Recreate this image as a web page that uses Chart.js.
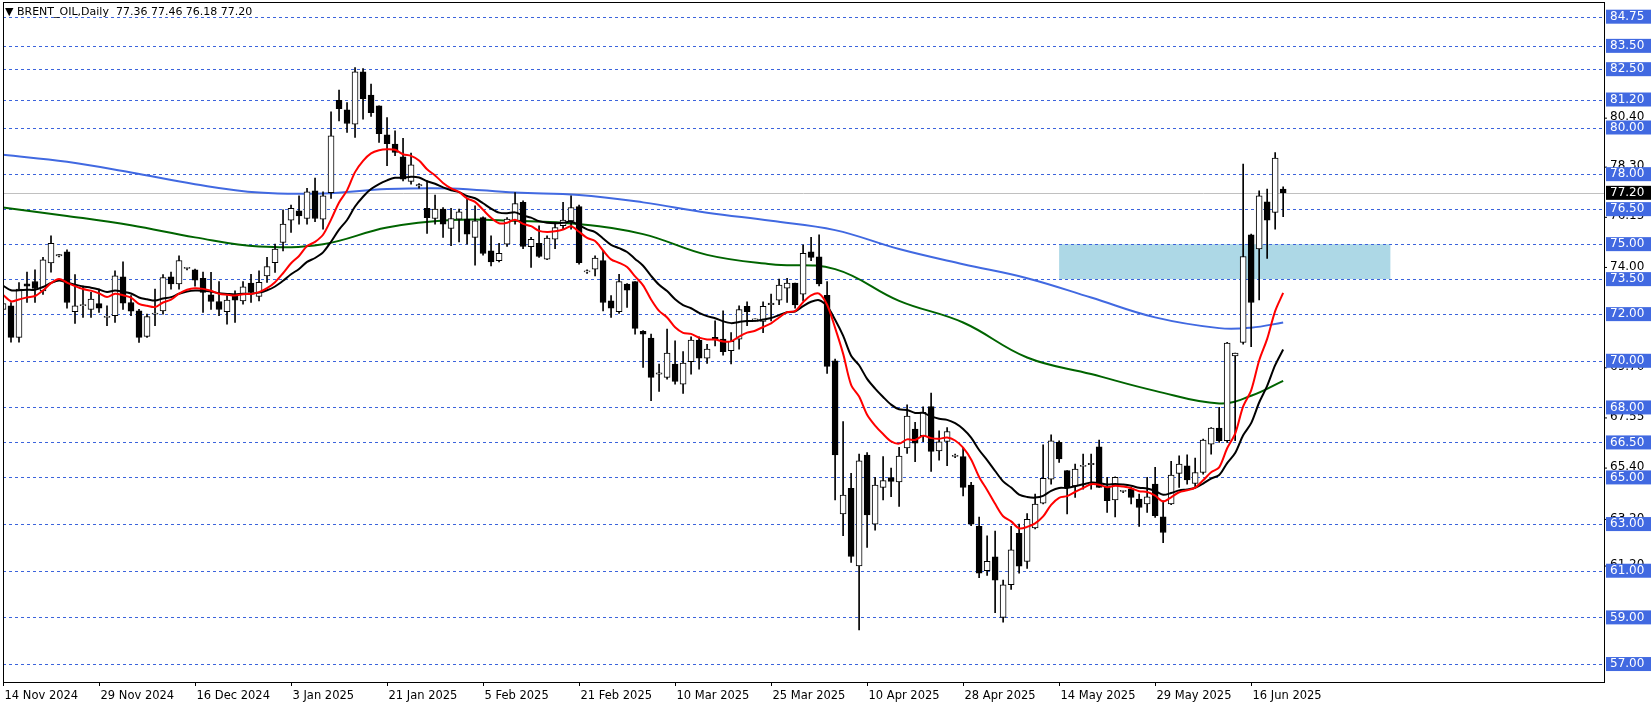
<!DOCTYPE html>
<html><head><meta charset="utf-8">
<script src="https://cdn.jsdelivr.net/npm/chart.js@4.4.0/dist/chart.umd.min.js"></script>
<style>html,body{margin:0;padding:0;background:#fff;overflow:hidden}#w{width:1651px;height:705px}</style>
</head><body><div id="w"><canvas id="c" width="1651" height="705"></canvas></div>
<script>
const opens=[72.2,72.36,71.0,73.3,73.4,73.0,74.2,74.5,74.67,72.1,72.36,72.2,72.45,71.86,71.93,73.6,72.5,72.14,71.04,72.0,72.14,73.6,73.3,73.96,73.9,73.53,72.83,72.54,72.1,72.83,72.57,73.33,72.76,73.64,74.21,75.07,76.03,76.43,76.1,77.29,
76.07,77.21,81.17,80.76,80.14,82.39,81.39,80.93,79.69,79.29,78.74,77.69,77.5,76.54,76.1,76.5,75.67,76.07,76.07,75.29,76.14,74.71,74.29,75.0,76.0,76.79,74.89,75.04,74.36,75.21,75.79,76.0,76.61,73.81,73.93,74.29,72.57,72.1,73.29,73.39,
71.26,70.97,69.43,69.29,69.86,69.0,69.96,70.89,70.11,71.0,70.93,70.43,70.93,72.33,71.75,71.69,72.4,72.6,73.11,73.33,72.86,74.67,74.46,72.81,70.0,63.43,64.53,61.21,65.96,63.0,64.57,64.99,64.81,66.26,67.07,66.79,68.04,66.14,66.54,65.9,
65.89,64.67,62.9,61.0,61.6,59.0,60.4,62.6,61.4,62.83,63.9,64.93,66.5,65.29,64.64,65.47,65.55,66.31,64.57,64.03,64.4,64.5,64.07,63.86,64.71,63.31,63.86,65.17,65.5,64.74,65.21,66.43,67.11,66.57,70.21,70.79,75.4,74.79,76.81,76.36,77.36];
const highs=[72.6,72.5,73.35,73.8,73.9,74.43,75.36,74.55,74.76,73.7,73.2,72.93,73.07,72.36,73.86,74.24,72.79,72.21,72.0,73.07,73.7,73.8,74.5,74.0,73.93,73.8,73.79,73.4,72.79,73.0,73.39,73.71,73.86,74.43,75.0,76.47,76.67,77.07,77.39,77.83,
77.24,80.67,81.6,81.07,82.57,82.53,81.86,80.93,80.43,79.86,79.54,78.9,77.6,77.71,77.1,76.57,76.53,76.5,76.96,76.64,76.17,75.36,75.04,76.14,77.21,76.86,75.29,75.79,75.36,75.93,76.79,77.07,76.67,73.9,74.5,74.74,72.79,73.71,73.31,73.39,
71.29,71.14,69.86,71.36,70.86,70.39,71.03,71.03,70.71,71.71,72.14,71.21,72.36,72.53,71.8,72.53,72.86,73.5,73.53,73.33,74.97,75.29,75.4,73.39,70.07,67.39,65.17,66.0,66.07,65.0,65.89,65.4,66.29,68.11,67.36,68.03,68.61,67.0,67.14,66.0,
66.29,64.79,63.3,62.5,62.7,60.6,62.9,63.0,63.45,64.29,66.4,66.83,66.57,65.29,65.57,66.0,66.0,66.6,65.0,65.03,64.45,64.57,64.29,65.0,65.43,64.0,65.69,65.93,65.97,65.83,66.64,67.14,68.0,70.79,70.33,78.43,75.43,77.29,77.36,78.93,77.46];
const lows=[71.7,70.8,70.8,72.5,72.5,72.85,73.8,74.45,72.26,71.6,71.86,71.86,72.07,71.5,71.64,72.2,71.93,70.79,71.0,71.5,72.0,73.07,73.07,73.9,73.2,72.07,72.2,71.93,71.57,71.64,72.43,72.5,72.57,73.36,73.79,74.71,75.5,75.86,75.86,75.96,
75.64,76.96,80.28,79.79,79.57,80.36,80.47,79.36,78.36,78.79,77.71,77.57,77.4,75.46,75.86,75.29,74.93,75.1,75.0,74.1,74.53,74.07,74.24,74.9,75.86,74.81,74.0,74.43,74.33,74.81,75.64,75.64,74.14,73.75,73.64,72.14,71.86,72.03,72.29,71.14,
69.71,68.29,68.69,69.21,69.0,68.6,69.43,69.64,69.89,70.64,70.24,69.86,70.5,71.5,71.7,71.21,71.71,72.4,72.5,72.26,72.57,74.29,73.21,69.46,64.03,62.5,61.36,58.46,62.0,62.74,64.03,64.17,63.76,66.03,65.67,66.53,65.26,65.74,65.5,65.85,
64.21,62.93,60.7,60.8,59.2,58.8,60.2,60.9,61.1,62.79,63.86,64.71,65.64,63.43,64.14,64.5,64.5,64.57,63.5,63.31,64.35,63.86,62.9,63.5,63.29,62.2,63.83,64.57,64.71,64.57,65.14,66.0,66.5,66.5,66.57,70.71,70.61,72.61,74.39,75.64,76.18];
const closes=[72.45,71.0,73.07,73.2,73.1,74.33,75.04,74.5,72.5,72.36,72.38,72.64,72.26,71.86,73.64,72.47,72.13,71.0,71.89,72.0,73.57,73.3,74.3,73.96,73.46,72.93,72.54,72.2,72.6,72.6,73.17,72.93,73.36,74.04,74.79,75.86,76.53,76.21,77.24,76.1,
77.07,79.64,80.81,80.17,82.39,81.24,80.64,79.74,79.31,78.93,77.79,78.4,77.5,76.14,76.5,75.86,76.1,76.39,75.43,76.0,74.6,74.24,74.61,76.07,76.74,74.9,75.21,74.47,75.26,75.71,76.03,76.57,74.21,73.81,74.4,72.5,72.26,73.39,73.03,71.39,
71.14,69.29,69.43,70.33,69.11,69.9,70.89,70.11,70.5,70.89,70.39,70.83,72.19,72.11,71.75,72.33,72.47,73.24,73.33,72.39,74.61,74.43,73.29,69.76,65.96,64.24,61.61,65.71,63.39,64.67,64.86,64.83,65.91,67.63,66.47,67.79,66.11,66.53,66.97,65.9,
64.57,63.0,60.9,61.4,60.6,60.4,61.9,61.2,63.2,63.86,64.96,66.57,65.79,64.57,65.36,65.5,65.57,64.57,64.0,65.0,64.4,64.14,63.71,64.17,63.36,62.64,65.1,65.57,64.89,65.21,66.6,67.11,66.57,70.76,70.33,74.47,72.5,77.07,76.03,78.69,77.2];
const blueIdx=[0,8,16,24,32,40,48,56,64,72,80,88,96,104,112,120,128,136,144,152,156,160];
const blueVal=[78.83,78.53,78.07,77.57,77.21,77.17,77.36,77.39,77.21,77.11,76.79,76.35,76.0,75.6,74.79,74.14,73.54,72.71,71.86,71.4,71.42,71.64];
const greenIdx=[0,8,16,24,32,40,48,56,64,72,80,88,96,104,112,120,128,136,144,152,156,160];
const greenVal=[76.57,76.21,75.81,75.29,74.9,75.0,75.71,76.03,76.0,75.86,75.43,74.54,74.14,73.93,72.57,71.64,70.14,69.43,68.71,68.17,68.5,69.14];
const dateLabels=["14 Nov 2024","29 Nov 2024","16 Dec 2024","3 Jan 2025","21 Jan 2025","5 Feb 2025","21 Feb 2025","10 Mar 2025","25 Mar 2025","10 Apr 2025","28 Apr 2025","14 May 2025","29 May 2025","16 Jun 2025"];
const levelLines=[84.75,83.5,82.5,81.2,80.0,78.0,76.5,75.0,73.5,72.0,70.0,68.0,66.5,65.0,63.0,61.0,59.0,57.0];
const axisTicks=[80.40,78.30,76.15,74.00,69.70,67.55,65.40,63.20,61.20];
const lastPrice=77.20;
const redSeed=72.9, blackSeed=73.3;
const zone={from:132,to:173.4,low:73.5,high:75.0};
const title="\u25BC BRENT_OIL,Daily  77.36 77.46 76.18 77.20";

function ema(a,n,seed){const k=2/(n+1);let e=seed;return a.map(v=>{e=e+k*(v-e);return e;});}
const red=ema(closes,12,redSeed), blk=ema(closes,21,blackSeed);
const N=closes.length;
const bodies=[],wicks=[],bodyFill=[];
for(let i=0;i<N;i++){let o=opens[i],c=closes[i];if(Math.abs(o-c)<0.05){c=o+0.05;}
 bodies.push({x:i,y:[o,c]});wicks.push({x:i,y:[lows[i],highs[i]]});bodyFill.push(closes[i]>=opens[i]?'#ffffff':'#000000');}

const deco={id:'deco',
 beforeDatasetsDraw(ch){const {ctx,chartArea:a,scales:{x,y}}=ch;ctx.save();
  ctx.fillStyle='#add8e6';const zx1=x.getPixelForValue(zone.from),zx2=x.getPixelForValue(zone.to);
  const zy1=y.getPixelForValue(zone.high),zy2=y.getPixelForValue(zone.low);ctx.fillRect(zx1,zy1,zx2-zx1,zy2-zy1);
  ctx.strokeStyle='#3c64dc';ctx.lineWidth=1;ctx.setLineDash([3,3]);
  levelLines.forEach(v=>{const py=Math.round(y.getPixelForValue(v))+0.5;ctx.beginPath();ctx.moveTo(a.left,py);ctx.lineTo(a.right,py);ctx.stroke();});
  ctx.setLineDash([]);ctx.strokeStyle='#c0c0c0';const lp=Math.round(y.getPixelForValue(lastPrice))+0.5;
  ctx.beginPath();ctx.moveTo(a.left,lp);ctx.lineTo(a.right,lp);ctx.stroke();ctx.restore();},
 afterDraw(ch){const {ctx,chartArea:a,scales:{x,y}}=ch;ctx.save();
  ctx.strokeStyle='#000';ctx.lineWidth=1;ctx.strokeRect(a.left+0.5,a.top+0.5,a.right-a.left,a.bottom-a.top);
  ctx.font='12px "DejaVu Sans"';ctx.textBaseline='middle';ctx.fillStyle='#000';
  axisTicks.forEach(v=>{const py=y.getPixelForValue(v);ctx.beginPath();ctx.moveTo(a.right,py);ctx.lineTo(a.right+3,py);ctx.stroke();ctx.fillText(v.toFixed(2),a.right+6,py-1);});
  levelLines.forEach(v=>{const py=y.getPixelForValue(v);ctx.fillStyle='#4169e1';ctx.fillRect(a.right+2,py-7,46,14);ctx.fillStyle='#fff';ctx.fillText(v.toFixed(2),a.right+6,py);});
  const lp=y.getPixelForValue(lastPrice);ctx.fillStyle='#000';ctx.fillRect(a.right+2,lp-7,46,14);ctx.fillStyle='#fff';ctx.fillText(lastPrice.toFixed(2),a.right+6,lp);
  ctx.fillStyle='#000';ctx.textBaseline='alphabetic';ctx.font='11.5px "DejaVu Sans"';
  dateLabels.forEach((d,k)=>{const px=Math.round(x.getPixelForValue(k*12))+0.5;ctx.beginPath();ctx.moveTo(px,a.bottom);ctx.lineTo(px,a.bottom+4);ctx.stroke();ctx.fillText(d,px+1,a.bottom+17);});
  ctx.font='11px "DejaVu Sans"';ctx.fillText(title,5,15);
  ctx.restore();}};

new Chart(document.getElementById('c'),{
 data:{datasets:[
  {type:'line',data:blueIdx.map((v,k)=>({x:v,y:blueVal[k]})),borderColor:'#4169e1',borderWidth:2,pointRadius:0,tension:0.4,order:5},
  {type:'line',data:greenIdx.map((v,k)=>({x:v,y:greenVal[k]})),borderColor:'#006400',borderWidth:2,pointRadius:0,tension:0.4,order:5},
  {type:'bar',data:wicks,backgroundColor:'#000',borderWidth:0,barThickness:1,grouped:false,order:4},
  {type:'bar',data:bodies,backgroundColor:bodyFill,borderColor:'#000',borderWidth:1,borderSkipped:false,barThickness:6,grouped:false,order:3},
  {type:'line',data:blk.map((v,i)=>({x:i,y:v})),borderColor:'#000',borderWidth:2,pointRadius:0,tension:0.3,order:1},
  {type:'line',data:red.map((v,i)=>({x:i,y:v})),borderColor:'#ff0000',borderWidth:2,pointRadius:0,tension:0.3,order:0}
 ]},
 options:{responsive:false,animation:false,devicePixelRatio:1,
  layout:{padding:{left:3,right:47,top:2,bottom:23}},
  plugins:{legend:{display:false},tooltip:{enabled:false}},
  scales:{x:{type:'linear',min:0,max:200.1,display:false,offset:false},
          y:{type:'linear',min:56.23,max:85.38,display:false}}},
 plugins:[deco]});
</script></body></html>
